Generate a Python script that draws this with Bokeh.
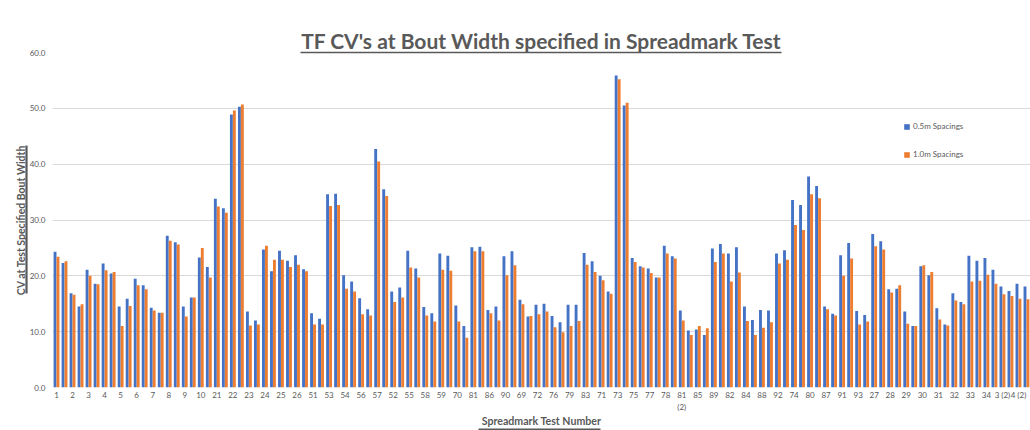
import numpy as np
from bokeh.plotting import figure
from bokeh.models import (ColumnDataSource, Range1d, FixedTicker, LinearAxis,
                          Title, Legend, LegendItem)
from bokeh.transform import dodge
from bokeh.embed import file_html
from bokeh.resources import INLINE

# ---------------- data ----------------
# visible tick labels (every second test shown, as in the reference)
tick_labels = ["1", "2", "3", "4", "5", "6", "7", "8", "9", "10",
               "21", "22", "23", "24", "25", "26", "51", "53", "54", "56",
               "57", "52", "55", "58", "59", "70", "81", "86", "90", "69",
               "72", "76", "79", "83", "71", "73", "75", "77", "78", "81\n(2)",
               "85", "89", "82", "84", "88", "92", "74", "80", "87", "91",
               "93", "27", "28", "29", "30", "31", "32", "33", "34", "3 (2)",
               "4 (2)"]

spacing_05m = [24.3, 22.3, 16.9, 14.5, 21.1, 18.6, 22.2, 20.4, 14.5, 15.9,
               19.5, 18.3, 14.3, 13.4, 27.2, 26.0, 14.5, 16.1, 23.3, 21.6,
               33.8, 32.1, 48.9, 50.3, 13.6, 12.0, 24.7, 20.8, 24.5, 22.7,
               23.7, 21.2, 13.3, 12.3, 34.6, 34.7, 20.1, 19.0, 16.0, 14.0,
               42.7, 35.5, 17.2, 17.9, 24.5, 21.3, 14.4, 13.3, 24.0, 23.6,
               14.7, 11.0, 25.1, 25.2, 13.9, 14.5, 23.5, 24.4, 15.7, 12.7,
               14.8, 15.0, 12.8, 11.7, 14.8, 14.8, 24.1, 22.6, 20.0, 17.2,
               55.9, 50.5, 23.2, 21.7, 21.3, 19.7, 25.4, 23.5, 13.8, 10.2,
               10.4, 9.4, 24.9, 25.7, 24.0, 25.1, 14.5, 12.1, 13.9, 13.8,
               24.0, 24.6, 33.6, 32.7, 37.8, 36.1, 14.5, 13.2, 23.7, 25.9,
               13.7, 13.0, 27.5, 26.2, 17.6, 17.7, 13.6, 11.0, 21.7, 20.1,
               14.2, 11.3, 16.9, 15.3, 23.6, 22.7, 23.2, 21.1, 18.1, 17.3,
               18.6, 18.1]

spacing_10m = [23.4, 22.6, 16.6, 14.9, 20.0, 18.5, 21.0, 20.7, 11.0, 14.6,
               18.3, 17.6, 13.8, 13.4, 26.3, 25.6, 12.7, 16.1, 25.0, 19.7,
               32.4, 31.3, 49.6, 50.7, 11.1, 11.3, 25.4, 22.9, 22.9, 21.6,
               22.0, 20.8, 11.3, 11.3, 32.5, 32.7, 17.7, 17.2, 13.1, 12.9,
               40.5, 34.3, 15.3, 16.1, 21.5, 19.7, 12.9, 11.8, 21.1, 20.9,
               11.8, 8.9, 24.4, 24.4, 13.3, 12.0, 20.1, 21.9, 14.9, 12.8,
               13.1, 13.6, 10.8, 9.9, 11.0, 11.9, 22.0, 20.7, 19.2, 16.8,
               55.2, 51.0, 22.5, 21.5, 20.5, 19.7, 24.0, 23.1, 12.0, 9.4,
               11.0, 10.6, 22.5, 24.0, 19.0, 20.6, 11.9, 9.4, 10.7, 11.7,
               22.2, 22.9, 29.1, 28.2, 34.6, 33.9, 14.0, 12.9, 20.0, 23.1,
               11.3, 11.8, 25.3, 24.7, 17.0, 18.3, 11.4, 11.0, 21.9, 20.7,
               12.2, 11.1, 15.6, 14.9, 19.0, 19.1, 20.2, 18.6, 16.7, 16.4,
               15.9, 15.8]

y_ticks = [0, 10, 20, 30, 40, 50, 60]
series_names = ["0.5m Spacings", "1.0m Spacings"]
colors = ["#4472C4", "#ED7D31"]

# ---------------- figure ----------------
n = len(spacing_05m)
src = ColumnDataSource(dict(x=list(range(n)), a=spacing_05m, b=spacing_10m))

GRAY = "#595959"
FONT = "Lato"

p = figure(width=1030, height=430, output_backend="svg", toolbar_location=None,
           x_range=Range1d(-0.5, n - 0.5), y_range=Range1d(0, 60),
           min_border_left=52, min_border_right=0, min_border_top=52,
           min_border_bottom=43)
p.outline_line_color = None
p.background_fill_color = "white"
p.border_fill_color = "white"

r1 = p.vbar(x=dodge("x", -0.185), top="a", width=0.36, source=src,
            fill_color=colors[0], line_color=None)
r2 = p.vbar(x=dodge("x", 0.185), top="b", width=0.36, source=src,
            fill_color=colors[1], line_color=None)

# axes
p.xaxis.ticker = FixedTicker(ticks=list(range(0, n, 2)))
p.xaxis.major_label_overrides = {i * 2: t for i, t in enumerate(tick_labels)}
p.yaxis.ticker = FixedTicker(ticks=y_ticks)
p.yaxis.major_label_overrides = {v: f"{v:.1f}" for v in y_ticks}
for ax in (p.xaxis, p.yaxis):
    ax.axis_line_color = None
    ax.major_tick_line_color = None
    ax.minor_tick_line_color = None
    ax.major_tick_out = 0
    ax.minor_tick_out = 0
    ax.major_label_text_font = FONT
    ax.major_label_text_font_size = "8px"
    ax.major_label_text_color = GRAY
p.xaxis.major_label_standoff = 2
p.xaxis.major_label_text_line_height = 1.2
p.yaxis.major_label_standoff = 7

# x axis title (underlined by an extra axis line below it)
p.xaxis.axis_label = "Spreadmark Test Number"
p.xaxis.axis_label_standoff = 0
p.xaxis.axis_label_text_font = FONT
p.xaxis.axis_label_text_font_style = "bold"
p.xaxis.axis_label_text_font_size = "10.6px"
p.xaxis.axis_label_text_color = GRAY

p.xgrid.grid_line_color = None
p.ygrid.grid_line_color = "#D9D9D9"
p.ygrid.grid_line_width = 1


def underline(bounds, width=1.0, gap=0):
    """An axis that only draws its (bounded) line: used as a text underline."""
    return LinearAxis(ticker=FixedTicker(ticks=[]), bounds=bounds,
                      axis_line_color=GRAY, axis_line_width=width,
                      major_tick_out=gap, major_tick_in=0, minor_tick_out=0,
                      minor_tick_in=0, major_tick_line_color=None,
                      minor_tick_line_color=None, major_label_standoff=0,
                      major_label_text_font_size="0px")


# main title, underlined
p.add_layout(underline((30.4, 90.4), width=1.5), "above")
p.title.text = "TF CV's at Bout Width specified in Spreadmark Test"
p.title.text_font = FONT
p.title.text_font_style = "bold"
p.title.text_font_size = "21px"
p.title.text_color = GRAY
p.title.align = "center"
p.title.standoff = 0

# y axis title, underlined (underline sits between text and tick labels)
p.add_layout(underline((16.9, 43.3), width=2.2, gap=1), "left")
p.add_layout(Title(text="CV at Test Specified Bout Width", align="center",
                   text_font=FONT, text_font_style="bold",
                   text_font_size="10.5px", text_color=GRAY, standoff=0),
             "left")

# underline of the x axis title
p.add_layout(underline((52.6, 67.8), width=2.2, gap=1), "below")

# legend
legend = Legend(items=[LegendItem(label=series_names[0], renderers=[r1]),
                       LegendItem(label=series_names[1], renderers=[r2])],
                location=(851, 228), orientation="vertical",
                glyph_width=7, glyph_height=7, label_height=10, spacing=18,
                label_standoff=3, padding=0, margin=0,
                label_text_font=FONT, label_text_font_size="8px",
                label_text_color=GRAY, border_line_color=None,
                background_fill_alpha=0)
p.add_layout(legend)

open("out.html", "w").write(file_html(p, INLINE))
